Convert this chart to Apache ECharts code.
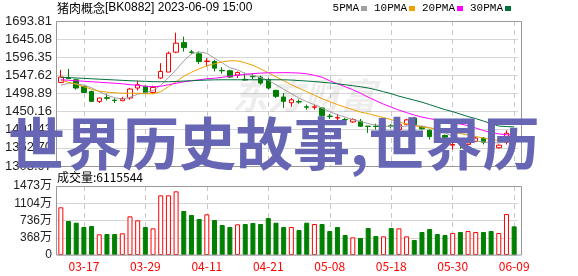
<!DOCTYPE html>
<html><head><meta charset="utf-8">
<script src="https://cdn.jsdelivr.net/npm/echarts@6/dist/echarts.min.js"></script>
<style>html,body{margin:0;padding:0;background:#fff}#c{width:578px;height:276px}</style>
</head><body><div id="c"></div>
<script>
const dates = ['03-14','03-15','03-16','03-17','03-20','03-21','03-22','03-23','03-24','03-27','03-28','03-29','03-30','03-31','04-03','04-04','04-06','04-07','04-10','04-11','04-12','04-13','04-14','04-17','04-18','04-19','04-20','04-21','04-24','04-25','04-26','04-27','04-28','05-04','05-05','05-08','05-09','05-10','05-11','05-12','05-15','05-16','05-17','05-18','05-19','05-22','05-23','05-24','05-25','05-26','05-29','05-30','05-31','06-01','06-02','06-05','06-06','06-07','06-08','06-09'];
// [open, close, low, high]
const kline = [
[1528.6,1543.0,1526.9,1562.6],[1541.0,1539.0,1538.0,1565.0],[1535.8,1513.6,1509.1,1538.5],[1517.9,1501.8,1501.0,1519.8],
[1504.5,1477.7,1477.0,1506.4],[1477.7,1486.8,1473.4,1487.5],[1487.5,1486.0,1480.4,1498.3],[1481.0,1480.0,1473.4,1485.8],
[1479.6,1485.0,1478.3,1490.0],[1486.8,1510.9,1482.3,1513.6],[1513.6,1522.4,1507.2,1533.2],[1517.9,1500.2,1498.3,1520.6],
[1501.8,1515.2,1498.3,1519.8],[1540.4,1558.1,1537.7,1580.5],[1556.5,1607.3,1556.5,1611.6],[1610.0,1634.1,1607.3,1662.5],
[1635.7,1622.3,1611.6,1651.8],[1610.5,1609.5,1604.6,1616.2],[1605.5,1584.8,1578.7,1611.6],[1585.0,1586.0,1571.5,1593.9],
[1584.8,1567.1,1558.1,1589.4],[1561.0,1560.0,1551.9,1569.8],[1560.0,1543.0,1540.4,1562.6],[1548.4,1555.4,1540.4,1558.1],
[1537.0,1535.0,1534.0,1555.0],[1545.0,1544.0,1537.6,1553.7],[1543.0,1527.0,1522.5,1546.5],[1535.8,1513.5,1509.1,1540.3],
[1507.3,1491.2,1486.8,1509.1],[1489.4,1477.8,1460.0,1500.1],[1474.0,1482.0,1463.0,1487.0],[1477.0,1476.0,1471.6,1482.3],
[1463.0,1462.0,1455.5,1468.9],[1462.0,1463.0,1455.5,1469.0],[1460.0,1439.5,1431.4,1462.7],[1438.0,1437.0,1430.5,1443.9],
[1433.0,1434.0,1424.3,1443.9],[1429.0,1428.5,1424.3,1433.2],[1422.5,1428.7,1419.8,1432.3],[1424.3,1410.9,1409.1,1430.5],
[1411.0,1410.5,1393.0,1411.5],[1411.0,1410.0,1402.0,1418.0],[1410.0,1411.0,1400.2,1419.8],[1412.0,1410.0,1405.0,1416.0],
[1402.0,1415.0,1399.0,1418.0],[1416.0,1428.0,1413.0,1431.0],[1433.0,1415.0,1412.0,1436.0],[1410.0,1404.0,1402.0,1412.0],
[1400.0,1383.0,1375.0,1402.0],[1389.0,1385.0,1382.0,1392.0],[1386.0,1381.0,1378.0,1389.0],[1360.0,1362.0,1348.0,1375.0],
[1368.0,1366.0,1350.0,1372.0],[1362.0,1366.0,1350.0,1370.0],[1370.0,1379.0,1368.0,1382.0],[1379.0,1368.0,1362.0,1382.0],
[1366.0,1354.0,1350.0,1368.0],[1353.0,1360.0,1351.0,1362.0],[1368.0,1392.0,1362.0,1400.0],[1394.0,1392.0,1386.0,1398.0]
];
const ma5 = [1521.1,1526.5,1525.1,1521.1,1514.4,1503.7,1494.3,1487.6,1483.6,1489.0,1497.0,1501.0,1506.4,1521.1,1541.2,1562.6,1586.7,1605.4,1610.8,1606.8,1593.4,1581.4,1568.0,1562.6,1551.9,1547.9,1541.2,1534.5,1522.4,1510.4,1498.3,1486.3,1476.9,1468.9,1459.5,1450.2,1442.1,1435.4,1428.7,1423.4,1418.0,1414.0,1411.3,1410.0,1410.0,1411.3,1412.7,1411.3,1407.3,1402.0,1393.9,1383.2,1376.5,1372.5,1371.2,1368.5,1367.2,1365.8,1369.8,1372.5];
const ma10 = [1534.5,1529.1,1523.8,1517.1,1510.4,1505.1,1502.4,1501.0,1499.7,1499.7,1499.7,1498.3,1498.3,1503.7,1517.1,1530.5,1545.2,1555.9,1565.3,1573.3,1578.7,1584.0,1586.7,1586.7,1581.4,1574.7,1565.3,1554.6,1543.9,1533.2,1522.4,1513.1,1503.7,1494.3,1485.0,1476.9,1468.9,1462.2,1455.5,1448.8,1444.8,1439.4,1434.1,1428.7,1422.0,1416.7,1412.7,1408.6,1406.0,1403.3,1399.3,1395.3,1391.3,1387.2,1383.2,1379.2,1375.2,1372.5,1371.2,1371.2];
const ma20 = [1535.8,1534.5,1533.2,1531.8,1530.5,1529.1,1527.8,1526.5,1525.1,1522.4,1521.1,1518.4,1517.1,1518.4,1522.4,1526.5,1530.5,1533.2,1535.8,1538.5,1539.9,1542.5,1545.2,1547.9,1550.5,1552.4,1553.8,1554.6,1554.6,1555.1,1554.6,1553.8,1551.9,1547.9,1542.5,1533.2,1525.1,1517.1,1509.1,1499.7,1489.0,1479.6,1470.2,1462.2,1454.2,1447.5,1440.8,1435.4,1431.4,1427.4,1423.4,1419.4,1416.7,1412.7,1406.0,1399.3,1393.9,1390.4,1388.0,1387.2];
const ma30 = [1542.5,1541.7,1540.6,1539.6,1538.5,1537.4,1536.4,1535.3,1534.2,1533.2,1532.4,1531.6,1530.7,1530.5,1530.5,1531.3,1532.4,1533.2,1534.2,1535.0,1535.6,1535.8,1535.8,1535.8,1535.8,1535.8,1535.8,1535.8,1535.8,1535.8,1535.0,1533.7,1532.4,1531.0,1529.1,1527.3,1525.1,1522.4,1519.8,1517.1,1513.6,1509.1,1503.7,1498.4,1491.7,1486.3,1481.0,1475.6,1468.9,1462.2,1455.5,1450.2,1443.5,1436.8,1431.4,1424.8,1418.1,1411.4,1410.0,1409.2];
const volumes = [10180000,7260000,6900000,5980000,6190000,4410000,4480000,4480000,4630000,8250000,7400000,5980000,5690000,12740000,12740000,13590000,9390000,8540000,7690000,8680000,7470000,6400000,5980000,6550000,6620000,6830000,6620000,7900000,6900000,5980000,5980000,5340000,6900000,6620000,6620000,5120000,5980000,4270000,3770000,3630000,5760000,4060000,3980000,5760000,5690000,3980000,3200000,4910000,5550000,4480000,4270000,4700000,4910000,5120000,4910000,4910000,5120000,4700000,8750000,6115544];
const volUp = [1,0,0,0,0,1,0,0,1,1,1,0,1,1,1,1,0,0,0,1,0,0,0,1,0,0,0,0,0,0,1,0,0,1,0,0,0,0,1,0,0,0,1,0,1,1,0,0,0,0,0,1,0,1,1,0,0,1,1,0];
const seriesNames = ['5PMA','10PMA','20PMA','30PMA'];
const titleName = '猪肉概念';
const titleCode = '[BK0882] 2023-06-09 15:00';
const overlayText = '世界历史故事,世界历';

const RED = '#ff0000', GREEN = '#008000';
const maColors = ['#a0a0a0','#f0a000','#ff00ff','#00703c'];
const labelEvery = (i) => i % 8 === 3;
const sans = '"Noto Sans CJK SC", sans-serif';
const lat = '"Liberation Sans", Arial, sans-serif';

const chart = echarts.init(document.getElementById('c'), null, {renderer:'canvas'});
const xBase = (gi, showLabel) => ({
  type:'category', gridIndex: gi, data: dates, boundaryGap: true,
  axisLine:{show:false}, axisTick:{show:false},
  axisLabel:{show: showLabel, interval: labelEvery, color: RED, fontSize: 12, margin: 5, fontFamily: sans},
  splitLine:{show:true, interval: labelEvery, alignWithLabel: true, lineStyle:{color:'#c8c8c8', type:[5,4], width:1}}
});
const option = {
  animation: false,
  backgroundColor: '#fff',
  title: {text: '{a|' + titleName + '}{b|' + titleCode + '}', left: 57, top: 2, padding: 0,
    textStyle:{fontSize: 12, fontWeight:'normal', color:'#000',
      rich:{a:{fontSize:12, fontFamily: sans, color:'#000'}, b:{fontSize:12, fontFamily: lat, color:'#000'}}}},
  legend: {data: seriesNames, right: 67, top: 3, padding: 0, align:'right', icon:'rect',
    itemWidth: 6, itemHeight: 5, itemGap: 7, selectedMode: false,
    textStyle:{fontSize: 11, color:'#000', fontFamily:'"Liberation Mono", monospace', padding:[0,-3,0,0]}},
  grid: [
    {left: 57, right: 60, top: 21, height: 145, outerBoundsMode:'none'},
    {left: 57, right: 60, top: 186, height: 69, outerBoundsMode:'none'}
  ],
  xAxis: [xBase(0,false), xBase(1,true)],
  yAxis: [
    {type:'value', gridIndex:0, min:1303.97, max:1693.81, interval:48.73, scale:true,
     axisLine:{show:false}, axisTick:{show:false},
     axisLabel:{formatter:(v)=>v.toFixed(2), color:'#222', fontSize:13, margin:5, fontFamily: lat},
     splitLine:{lineStyle:{color:'#d6d6d6', width:1}}},
    {type:'value', gridIndex:1, min:0, max:14730000, interval:3682500,
     axisLine:{show:false}, axisTick:{show:false},
     axisLabel:{formatter:(v)=> v===0 ? '0' : Math.floor(v/10000)+'万', color:'#222', fontSize:12, margin:5, fontFamily:'"Liberation Sans", "Noto Sans CJK SC", sans-serif'},
     splitLine:{lineStyle:{color:'#d6d6d6', width:1}}}
  ],
  series: [
    {type:'candlestick', name:'K', xAxisIndex:0, yAxisIndex:0, data:kline, barWidth:5, silent:true,
     itemStyle:{color:'#ffffff', color0:GREEN, borderColor:RED, borderColor0:GREEN, borderWidth:1}},
    ...[ma5, ma10, ma20, ma30].map((d, k) => ({
      type:'line', name: seriesNames[k], xAxisIndex:0, yAxisIndex:0, data:d, symbol:'none', showSymbol:false,
      silent:true, color: maColors[k], lineStyle:{color: maColors[k], width:1}, z: 3
    })),
    {type:'bar', name:'VOL', xAxisIndex:1, yAxisIndex:1, barWidth:5, silent:true,
     data: volumes.map((v,i)=>({value:v, itemStyle: volUp[i]
        ? {color:'#ffffff', borderColor:RED, borderWidth:1}
        : {color:GREEN, borderColor:GREEN, borderWidth:1}}))}
  ],
  graphic: [
    {type:'text', x: 232, y: 95, z: 1, silent:true,
     style:{text:'东方财富', fontSize: 36, fontWeight:'bold', fontStyle:'italic', fontFamily: sans, fill:'rgba(0,0,0,0.07)', verticalAlign:'middle'}},
    {type:'rect', z: 5, silent:true, shape:{x:56.5, y:21.5, width:465, height:145}, style:{fill:'none', stroke:'#999', lineWidth:1}},
    {type:'rect', z: 5, silent:true, shape:{x:56.5, y:186.5, width:465, height:68.5}, style:{fill:'none', stroke:'#999', lineWidth:1}},
    {type:'text', x: 57, y: 177, z: 5, silent:true,
     style:{text:'成交量:' + volumes[volumes.length-1], fontSize: 12, fontFamily: sans, fill:'#000', verticalAlign:'middle'}},
    {type:'text', x: 8, y: 143.5, z: 100, silent:true,
     style:{text: overlayText, fontSize: 57, fontWeight:'bold', fontFamily: sans, fill:'#6666b4', verticalAlign:'middle'}}
  ]
};
chart.setOption(option);
</script></body></html>
